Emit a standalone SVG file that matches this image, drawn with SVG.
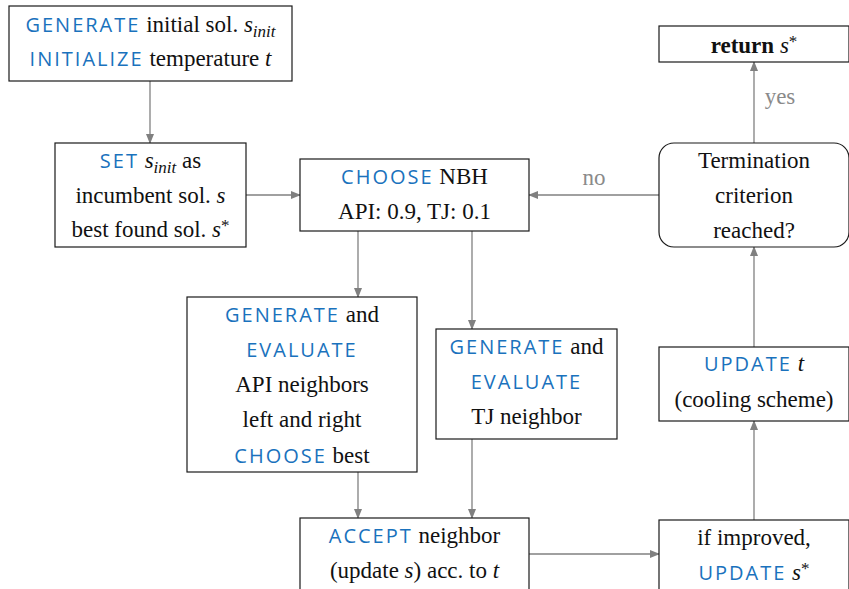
<svg xmlns="http://www.w3.org/2000/svg" width="849" height="589" viewBox="0 0 849 589">
<defs>
<marker id="arr" markerWidth="10" markerHeight="8" refX="9" refY="4" orient="auto" markerUnits="userSpaceOnUse">
<path d="M0,0 L10,4 L0,8 Z" fill="#808080"/>
</marker>
<style>
.box{fill:#fff;stroke:#1a1a1a;stroke-width:1.2}
.t{font-family:"Liberation Serif",serif;font-size:23px;fill:#111;text-anchor:middle}
.kw{font-family:"Open Sans","DejaVu Sans",sans-serif;font-size:20px;fill:#1a72bd;letter-spacing:2px}
.it{font-style:italic}
.b{font-weight:bold}
.edge{stroke:#808080;stroke-width:1.3;fill:none;marker-end:url(#arr)}
.lbl{fill:#8a8a8a}
</style>
</defs>
<rect width="849" height="589" fill="#fff"/>
<g id="connectors">
<path class="edge" d="M150,81 V143"/>
<path class="edge" d="M246,195 H300"/>
<path class="edge" d="M659,195 H529"/>
<path class="edge" d="M754,143 V62"/>
<path class="edge" d="M358,231 V297"/>
<path class="edge" d="M472,231 V329"/>
<path class="edge" d="M358,472 V518"/>
<path class="edge" d="M472,439 V518"/>
<path class="edge" d="M529,554 H659"/>
<path class="edge" d="M754,521 V421"/>
<path class="edge" d="M754,347 V247"/>
<text class="t lbl" x="594" y="185">no</text>
<text class="t lbl" x="780" y="104">yes</text>
</g>
<g id="init">
<rect class="box" x="9" y="6" width="283" height="75"/>
<text class="t" x="150.5" y="32"><tspan class="kw">GENERATE</tspan> initial sol. <tspan class="it">s</tspan><tspan class="it" font-size="17" dy="5">init</tspan></text>
<text class="t" x="150.5" y="66"><tspan class="kw">INITIALIZE</tspan> temperature <tspan class="it">t</tspan></text>
</g>
<g id="set">
<rect class="box" x="55" y="143" width="191" height="104"/>
<text class="t" x="150.5" y="168"><tspan class="kw">SET</tspan> <tspan class="it">s</tspan><tspan class="it" font-size="17" dy="5">init</tspan><tspan dy="-5"> as</tspan></text>
<text class="t" x="150.5" y="203">incumbent sol. <tspan class="it">s</tspan></text>
<text class="t" x="150.5" y="237">best found sol. <tspan class="it">s</tspan><tspan font-size="17" dy="-6">*</tspan></text>
</g>
<g id="choose">
<rect class="box" x="300" y="159" width="229" height="72"/>
<text class="t" x="414.5" y="184"><tspan class="kw">CHOOSE</tspan> NBH</text>
<text class="t" x="414.5" y="219">API: 0.9, TJ: 0.1</text>
</g>
<g id="termination">
<rect class="box" x="659" y="143" width="190" height="104" rx="15"/>
<text class="t" x="754" y="168">Termination</text>
<text class="t" x="754" y="203">criterion</text>
<text class="t" x="754" y="238">reached?</text>
</g>
<g id="return">
<rect class="box" x="659" y="26" width="190" height="36"/>
<text class="t" x="754" y="53"><tspan class="b">return</tspan> <tspan class="it">s</tspan><tspan font-size="17" dy="-6">*</tspan></text>
</g>
<g id="api">
<rect class="box" x="187" y="297" width="230" height="175"/>
<text class="t" x="302" y="322"><tspan class="kw">GENERATE</tspan> and</text>
<text class="t" x="302" y="357"><tspan class="kw">EVALUATE</tspan></text>
<text class="t" x="302" y="392">API neighbors</text>
<text class="t" x="302" y="427">left and right</text>
<text class="t" x="302" y="463"><tspan class="kw">CHOOSE</tspan> best</text>
</g>
<g id="tj">
<rect class="box" x="436" y="329" width="181" height="110"/>
<text class="t" x="526.5" y="354"><tspan class="kw">GENERATE</tspan> and</text>
<text class="t" x="526.5" y="389"><tspan class="kw">EVALUATE</tspan></text>
<text class="t" x="526.5" y="424">TJ neighbor</text>
</g>
<g id="accept">
<rect class="box" x="300" y="518" width="229" height="80"/>
<text class="t" x="414.5" y="543"><tspan class="kw">ACCEPT</tspan> neighbor</text>
<text class="t" x="414.5" y="578">(update <tspan class="it">s</tspan>) acc. to <tspan class="it">t</tspan></text>
</g>
<g id="improved">
<rect class="box" x="659" y="520" width="190" height="80"/>
<text class="t" x="754" y="545">if improved,</text>
<text class="t" x="754" y="580"><tspan class="kw">UPDATE</tspan> <tspan class="it">s</tspan><tspan font-size="17" dy="-6">*</tspan></text>
</g>
<g id="update-t">
<rect class="box" x="659" y="347" width="190" height="74"/>
<text class="t" x="754" y="371"><tspan class="kw">UPDATE</tspan> <tspan class="it">t</tspan></text>
<text class="t" x="754" y="407">(cooling scheme)</text>
</g>
</svg>
